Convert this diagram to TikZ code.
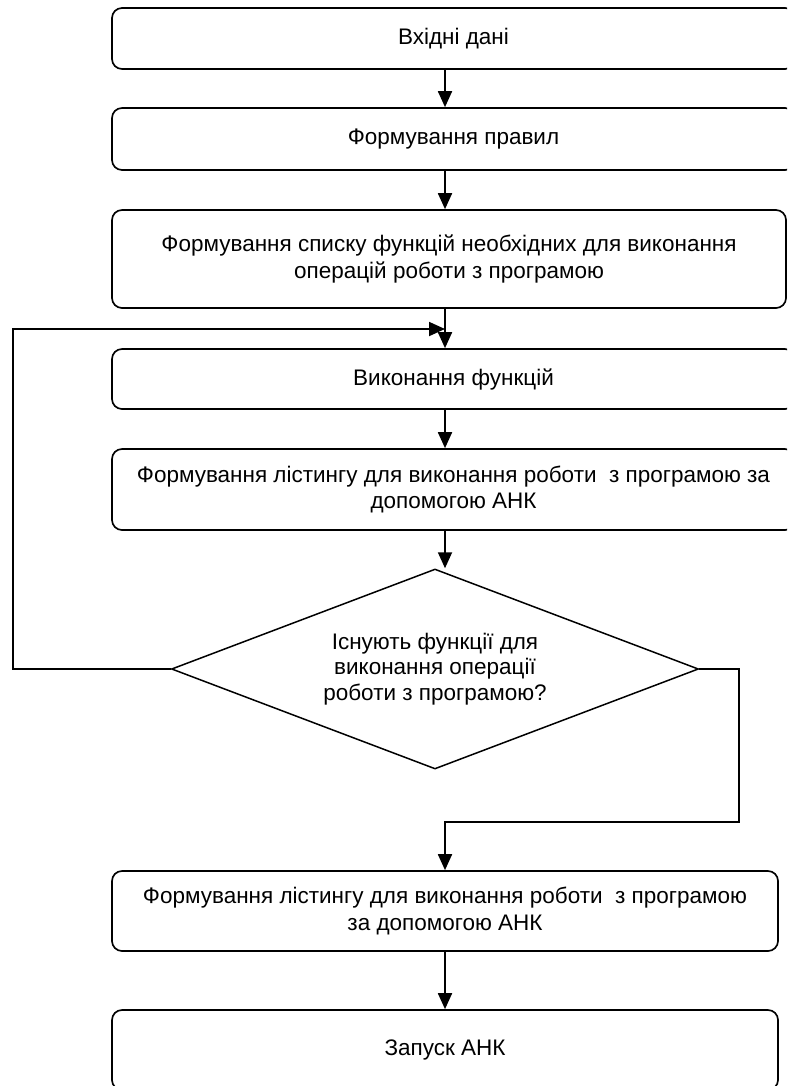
\documentclass[tikz,border=0pt]{standalone}
\usepackage{fontspec}
\setmainfont{Liberation Sans}
\usetikzlibrary{arrows.meta,positioning,shapes.geometric}

\begin{document}
\begin{tikzpicture}[x=0.3mm, y=-0.3mm,
	box/.style={draw, line width=0.5mm, rounded corners=3mm, minimum width=204.9mm,
		align=center, font=\fontsize{19.2}{23}\selectfont},
	dec/.style={draw, line width=0.45mm, diamond, aspect=2.6, inner sep=0pt,
		minimum width=158.1mm, minimum height=60mm, align=center,
		font=\fontsize{19.2}{22}\selectfont},
	arr/.style={-{Triangle[length=4.8mm, width=4.2mm]}, line width=0.55mm}
]
	\useasboundingbox (0, 0) rectangle (787, 1086);
	\begin{scope}
	\clip (0, 0) rectangle (787, 1086);
	\coordinate (sp) at (445, 0);
	\node[box, minimum height=18.3mm] (in) at (453.5, 38.5) {Вхідні дані};
	\node[box, minimum height=18.6mm] (rul) at (453.5, 139) {Формування правил};
	\node[box, minimum width=202.2mm, minimum height=29.4mm] (lst) at (449, 259)
		{Формування списку функцій необхідних для виконання\\операцій роботи з програмою};
	\node[box, minimum height=18mm] (run) at (453.5, 379) {Виконання функцій};
	\node[box, minimum height=24.3mm] (fl1) at (453.5, 489.5)
		{Формування лістингу для виконання роботи \ з програмою за\\допомогою АНК};
	\node[dec] (ask) at (435, 669)
		{Існують функції для\\виконання операції\\роботи з програмою?};
	\node[box, minimum width=199.8mm, minimum height=24mm] (fl2) at (445, 911)
		{Формування лістингу для виконання роботи \ з програмою\\за допомогою АНК};
	\node[box, minimum width=199.8mm, minimum height=24mm] (ank) at (445, 1050) {Запуск АНК};
	\coordinate (lp) at (13, 329);
	\coordinate (rp) at (739, 822);
	\draw[arr] (in.south -| sp) -- (rul.north -| sp);
	\draw[arr] (rul.south -| sp) -- (lst.north -| sp);
	\draw[arr] (lst.south -| sp) -- (run.north -| sp);
	\draw[arr] (run.south -| sp) -- (fl1.north -| sp);
	\draw[arr] (fl1.south -| sp) -- (ask.north -| sp);
	\draw[arr] (ask.west) -- (ask.west -| lp) -- (lp) -- (lp -| sp);
	\draw[arr] (ask.east) -- (ask.east -| rp) -- (rp) -- (rp -| sp) -- (fl2.north -| sp);
	\draw[arr] (fl2.south -| sp) -- (ank.north -| sp);
	\end{scope}
\end{tikzpicture}
\end{document}
